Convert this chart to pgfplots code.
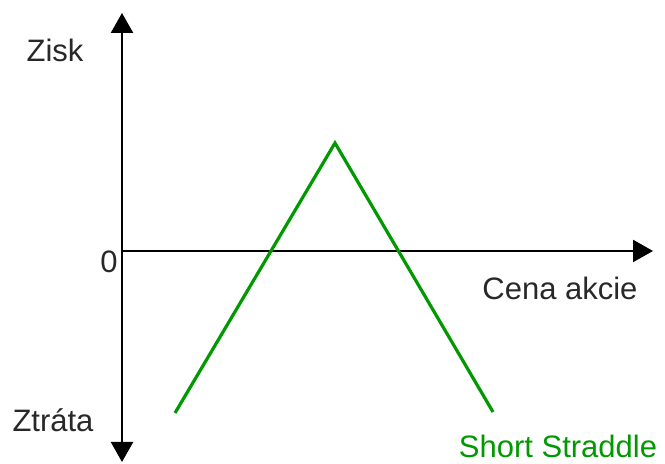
\documentclass[border=0pt]{standalone}
\usepackage{pgfplots}
\pgfplotsset{compat=1.18}
\usetikzlibrary{arrows.meta}
\usepackage{fontspec}
\setmainfont{Liberation Sans}
\definecolor{strgreen}{RGB}{0,153,0}
\definecolor{txt}{RGB}{40,40,40}
\begin{document}
\begin{tikzpicture}[lbl/.style={font=\fontsize{15.5}{18}\selectfont, text=txt, inner sep=0pt, anchor=base}]
\begin{axis}[
  x=0.5pt, y=0.5pt,
  axis lines=middle,
  xmin=0, xmax=531, ymin=-211, ymax=238,
  xtick=\empty, ytick=\empty,
  clip=false,
  axis line style={line width=1.2pt, black},
  x axis line style={-{Triangle[width=11pt,length=10pt]}},
  y axis line style={{Triangle[width=11pt,length=10pt]}-{Triangle[width=11pt,length=10pt]}},
]
\path (axis cs:-122,-212) rectangle (axis cs:543,251);
\addplot[strgreen, line width=1.6pt, mark=none] coordinates {(53,-162) (213,108) (371,-161)};
\node[lbl] at (axis cs:-67,189) {Zisk};
\node[lbl] at (axis cs:-13,-22) {0};
\node[lbl] at (axis cs:-69,-181) {Ztráta};
\node[lbl] at (axis cs:438,-49) {Cena akcie};
\node[lbl, text=strgreen] at (axis cs:436,-207) {Short Straddle};
\end{axis}
\end{tikzpicture}
\end{document}
